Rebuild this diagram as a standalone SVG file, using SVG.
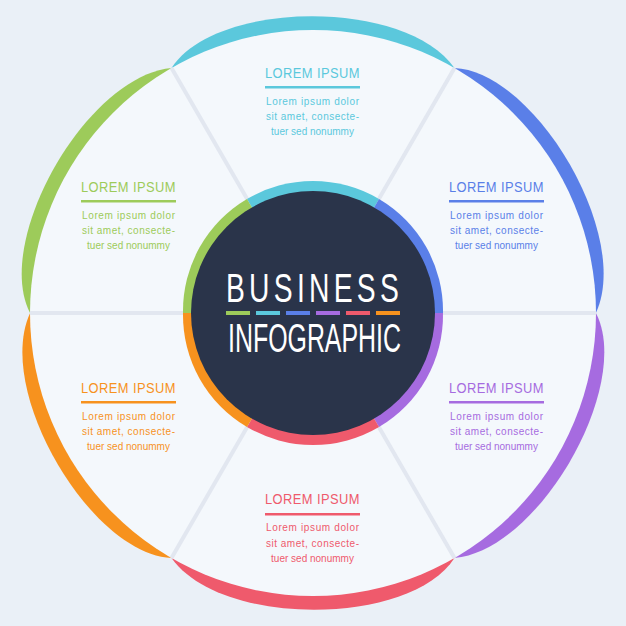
<svg xmlns="http://www.w3.org/2000/svg" width="626" height="626" viewBox="0 0 626 626">
<style>
.h{font-family:"Liberation Sans",sans-serif;font-size:15px;letter-spacing:0.5px}
.b{font-family:"Liberation Sans",sans-serif;font-size:10px}
.div{stroke:#e2e7f0;stroke-width:4}
.t{font-family:"Liberation Sans",sans-serif;font-size:40px;fill:#fff}
</style>
<defs>
<path id="cr" d="M171.5 68 C215 0 405 -2 454.5 68 L313 313 Z"/>
</defs>
<rect width="626" height="626" fill="#eaf0f7"/>
<g id="crescents">
<use href="#cr" fill="#5bc8dc"/>
<use href="#cr" fill="#5a7fe8" transform="rotate(60 313 313)"/>
<use href="#cr" fill="#a66be0" transform="rotate(120 313 313)"/>
<use href="#cr" fill="#ef5a6c" transform="rotate(180 313 313)"/>
<use href="#cr" fill="#f7921e" transform="rotate(240 313 313)"/>
<use href="#cr" fill="#9dcb5a" transform="rotate(300 313 313)"/>
<circle cx="313" cy="313" r="283" fill="#f4f8fc"/>
</g>
<g id="connectors">
<line class="div" x1="313" y1="313" x2="171.5" y2="68"/>
<line class="div" x1="313" y1="313" x2="454.5" y2="68"/>
<line class="div" x1="313" y1="313" x2="596" y2="313"/>
<line class="div" x1="313" y1="313" x2="454.5" y2="558"/>
<line class="div" x1="313" y1="313" x2="171.5" y2="558"/>
<line class="div" x1="313" y1="313" x2="30" y2="313"/>
</g>
<g id="center">
<path d="M247 199 A130 130 0 0 1 379 199 L313 313Z" fill="#5bc8dc"/>
<path d="M379 199 A130 130 0 0 1 443 313 L313 313Z" fill="#5a7fe8"/>
<path d="M443 313 A130 130 0 0 1 379 427 L313 313Z" fill="#a66be0"/>
<path d="M379 427 A130 130 0 0 1 247 427 L313 313Z" fill="#ef5a6c"/>
<path d="M247 427 A130 130 0 0 1 183 313 L313 313Z" fill="#f7921e"/>
<path d="M183 313 A130 130 0 0 1 247 199 L313 313Z" fill="#9dcb5a"/>
<circle cx="313" cy="313" r="122" fill="#2a344a"/>
<text class="t" x="226" y="302" textLength="177" lengthAdjust="spacingAndGlyphs" style="letter-spacing:6px">BUSINESS</text>
<text class="t" x="228" y="352" textLength="173" lengthAdjust="spacingAndGlyphs">INFOGRAPHIC</text>
<rect x="226" y="311" width="24" height="4" fill="#9dcb5a"/>
<rect x="256" y="311" width="24" height="4" fill="#5bc8dc"/>
<rect x="286" y="311" width="24" height="4" fill="#5a7fe8"/>
<rect x="316" y="311" width="24" height="4" fill="#a66be0"/>
<rect x="346" y="311" width="24" height="4" fill="#ef5a6c"/>
<rect x="376" y="311" width="24" height="4" fill="#f7921e"/>
</g>
<g id="n1" fill="#5bc8dc">
<text class="h" x="265" y="78" textLength="95" lengthAdjust="spacingAndGlyphs">LOREM IPSUM</text>
<rect x="265" y="86" width="95" height="2.5"/>
<text class="b" x="266" y="105" textLength="93">Lorem ipsum dolor</text>
<text class="b" x="266" y="120" textLength="93">sit amet, consecte-</text>
<text class="b" x="312.5" y="135" text-anchor="middle">tuer sed nonummy</text>
</g>
<g id="n2" fill="#9dcb5a">
<text class="h" x="81" y="192" textLength="95" lengthAdjust="spacingAndGlyphs">LOREM IPSUM</text>
<rect x="81" y="200" width="95" height="2.5"/>
<text class="b" x="82" y="219" textLength="93">Lorem ipsum dolor</text>
<text class="b" x="82" y="234" textLength="93">sit amet, consecte-</text>
<text class="b" x="128.5" y="249" text-anchor="middle">tuer sed nonummy</text>
</g>
<g id="n3" fill="#5a7fe8">
<text class="h" x="449" y="192" textLength="95" lengthAdjust="spacingAndGlyphs">LOREM IPSUM</text>
<rect x="449" y="200" width="95" height="2.5"/>
<text class="b" x="450" y="219" textLength="93">Lorem ipsum dolor</text>
<text class="b" x="450" y="234" textLength="93">sit amet, consecte-</text>
<text class="b" x="496.5" y="249" text-anchor="middle">tuer sed nonummy</text>
</g>
<g id="n4" fill="#f7921e">
<text class="h" x="81" y="393" textLength="95" lengthAdjust="spacingAndGlyphs">LOREM IPSUM</text>
<rect x="81" y="401" width="95" height="2.5"/>
<text class="b" x="82" y="420" textLength="93">Lorem ipsum dolor</text>
<text class="b" x="82" y="435" textLength="93">sit amet, consecte-</text>
<text class="b" x="128.5" y="450" text-anchor="middle">tuer sed nonummy</text>
</g>
<g id="n5" fill="#a66be0">
<text class="h" x="449" y="393" textLength="95" lengthAdjust="spacingAndGlyphs">LOREM IPSUM</text>
<rect x="449" y="401" width="95" height="2.5"/>
<text class="b" x="450" y="420" textLength="93">Lorem ipsum dolor</text>
<text class="b" x="450" y="435" textLength="93">sit amet, consecte-</text>
<text class="b" x="496.5" y="450" text-anchor="middle">tuer sed nonummy</text>
</g>
<g id="n6" fill="#ef5a6c">
<text class="h" x="265" y="504" textLength="95" lengthAdjust="spacingAndGlyphs">LOREM IPSUM</text>
<rect x="265" y="513" width="95" height="2.5"/>
<text class="b" x="266" y="531" textLength="93">Lorem ipsum dolor</text>
<text class="b" x="266" y="547" textLength="93">sit amet, consecte-</text>
<text class="b" x="312.5" y="562" text-anchor="middle">tuer sed nonummy</text>
</g>
</svg>
